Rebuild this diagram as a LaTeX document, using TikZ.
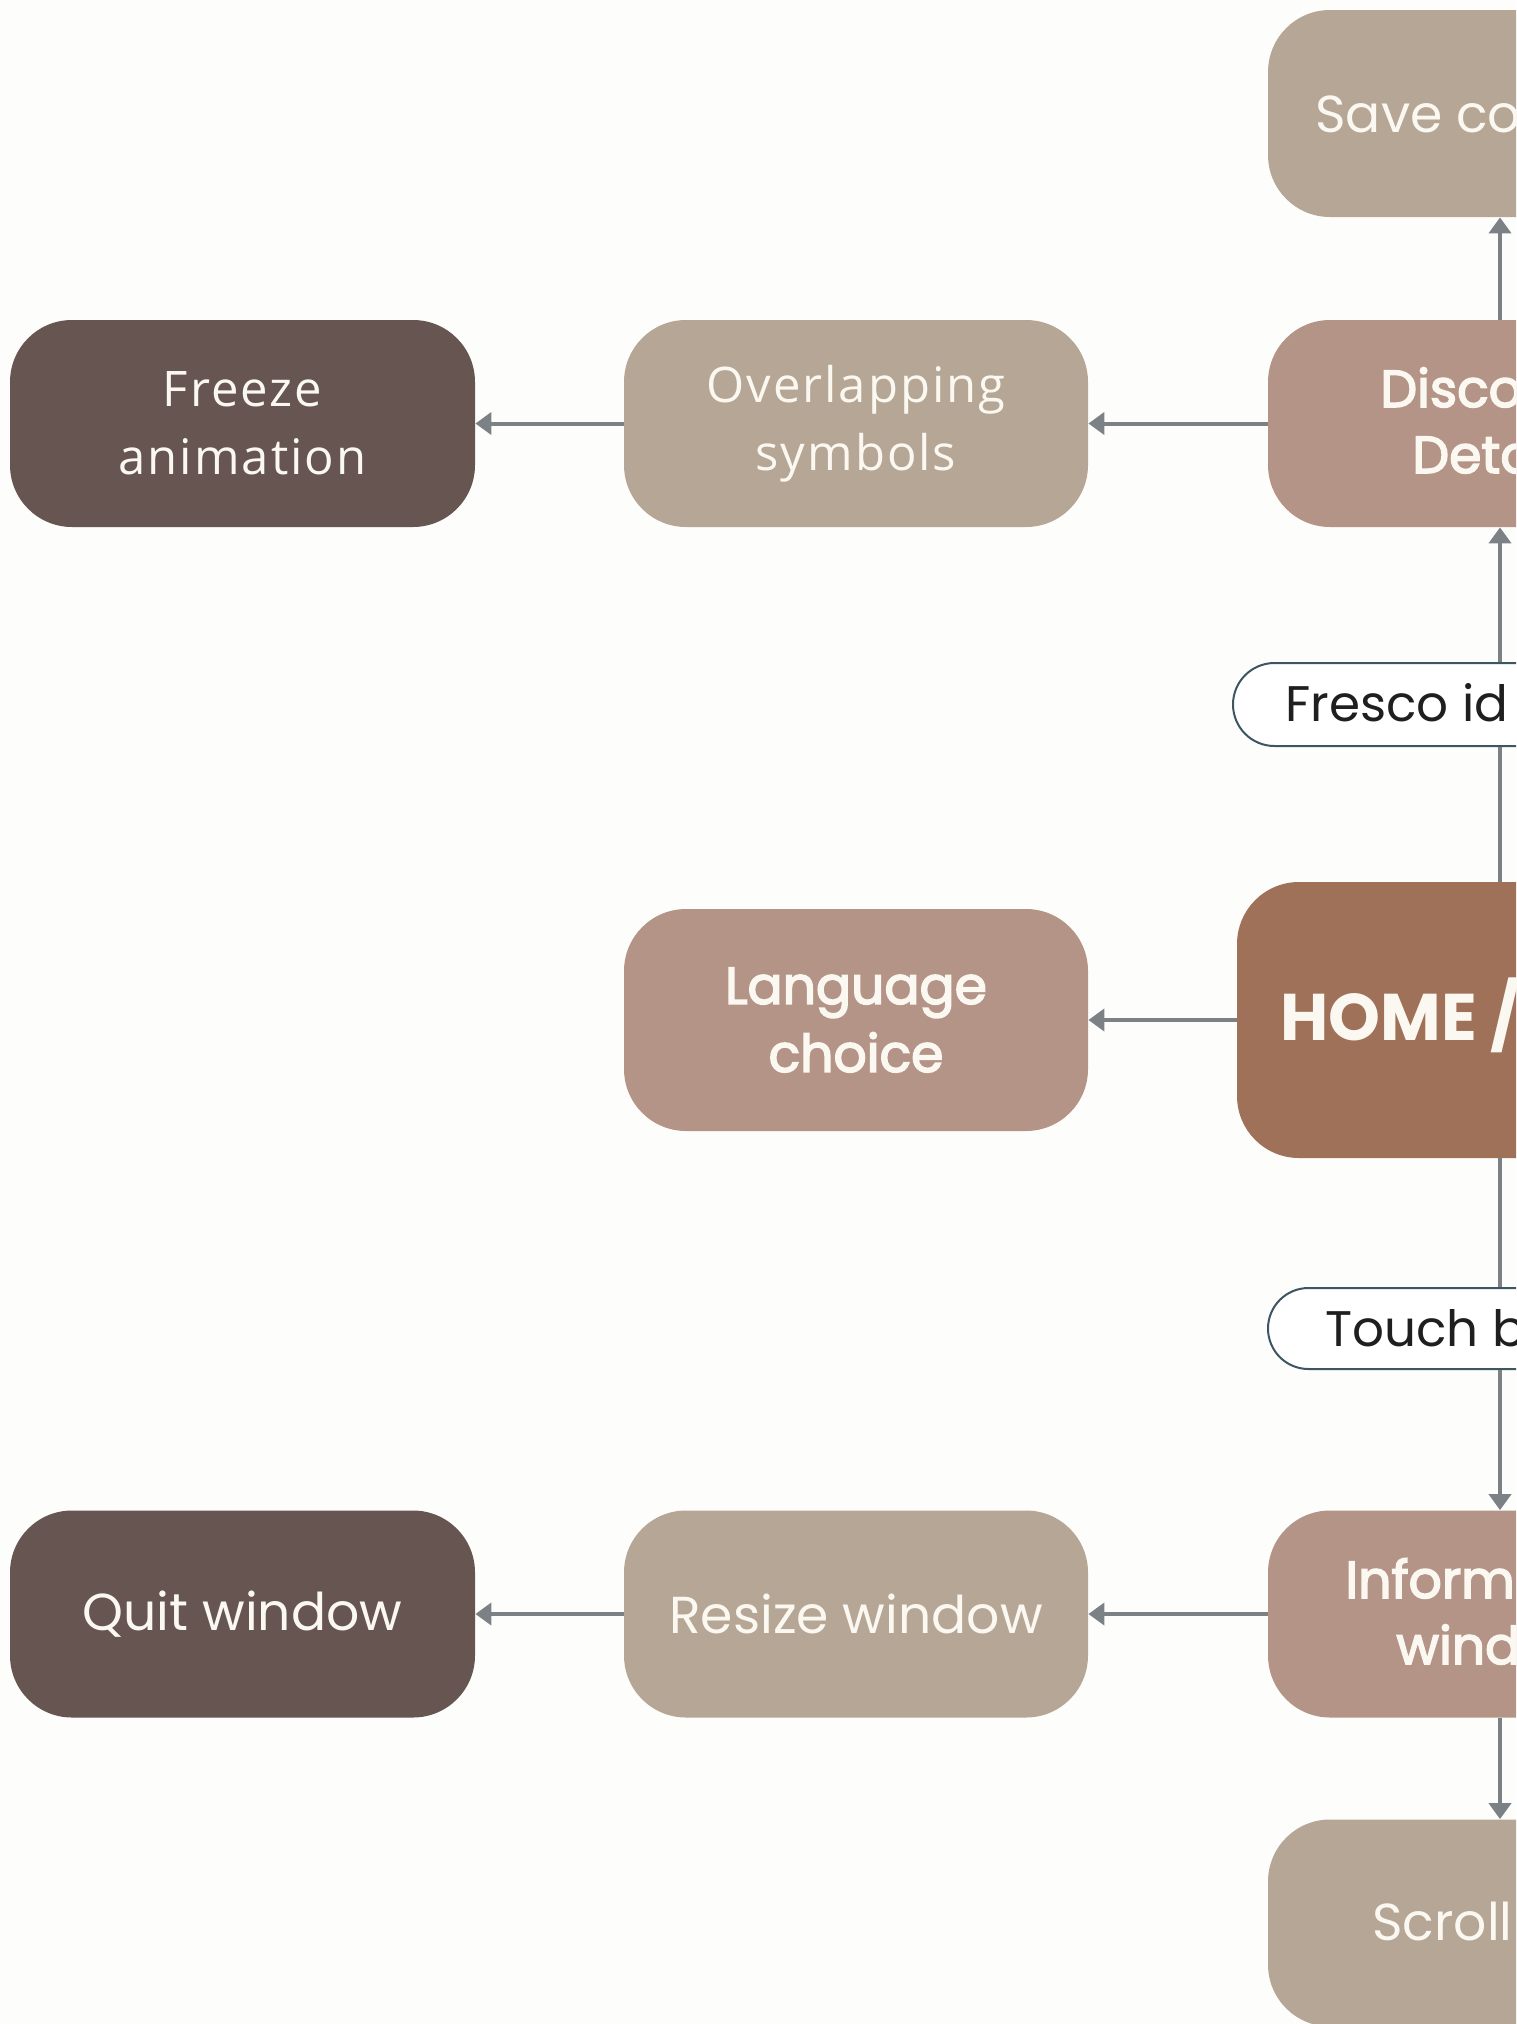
\documentclass[tikz,border=0pt]{standalone}
\usepackage{fontspec}
\setmainfont{Poppins}
\newfontfamily\semifont[FakeBold=3]{Poppins}
\newfontfamily\humfont[LetterSpace=4]{Open Sans}
\usetikzlibrary{arrows.meta,shapes.misc}

\definecolor{taupe}{HTML}{B5A695}
\definecolor{rose}{HTML}{B59488}
\definecolor{umber}{HTML}{665551}
\definecolor{clay}{HTML}{A07159}
\definecolor{linkgray}{HTML}{7B8185}
\definecolor{pillline}{HTML}{3E5661}
\definecolor{ink}{HTML}{FBF8F1}
\definecolor{paper}{HTML}{FDFDFC}

\tikzset{
  box/.style={rounded corners=31pt, minimum width=232pt, minimum height=103.5pt,
    inner sep=0pt, text=ink, align=center, font=\fontsize{26}{34}\selectfont},
  boldbox/.style={box, font=\semifont\fontsize{26}{34}\selectfont},
  humbox/.style={box, font=\humfont\fontsize{24.5}{34}\selectfont},
  link/.style={draw=linkgray, line width=2pt, -{Triangle[width=11pt,length=8pt]}},
  plain/.style={draw=linkgray, line width=2pt},
  pill/.style={rounded rectangle, draw=pillline, line width=1pt, fill=white,
    inner sep=0pt},
  frag/.style={anchor=base west, inner sep=0pt, text=ink, font=\fontsize{26}{34}\selectfont},
  boldfrag/.style={frag, font=\semifont\fontsize{26}{34}\selectfont},
  tag/.style={anchor=base west, inner sep=0pt, text=black!88, font=\fontsize{25}{30}\selectfont}
}

\begin{document}
\begin{tikzpicture}[x=0.5pt,y=-0.5pt]
  \useasboundingbox (0,0) rectangle (1516,2024);
  \fill[paper] (0,0) rectangle (1516,2024);
  \clip (0,0) rectangle (1516,2024);

  % main column
  \node[box, fill=taupe] (save) at (1500,113.5) {};
  \node[box, fill=rose] (disc) at (1500,423.5) {};
  \node[box, fill=clay, minimum width=263pt, minimum height=138pt] (home) at (1500,1020) {};
  \node[box, fill=rose] (inform) at (1500,1614) {};
  \node[box, fill=taupe] (scroll) at (1500,1923) {};

  % side branches
  \node[humbox, fill=taupe] (over) at (856,423.5) {Overlapping\\symbols};
  \node[humbox, fill=umber, minimum width=232.5pt] (freeze) at (242.5,423.5) {Freeze\\animation};
  \node[boldbox, fill=rose, minimum height=111pt] (lang) at (856,1020) {Language\\choice};
  \node[box, fill=taupe] (resize) at (856,1614) {Resize window};
  \node[box, fill=umber, minimum width=232.5pt] (quit) at (242.5,1614) {Quit window};

  % event labels on the main column
  \node[pill, minimum width=267pt, minimum height=41.5pt] (fresco) at (1500,704.5) {};
  \node[pill, minimum width=232pt, minimum height=40.5pt] (touch) at (1500,1328.5) {};

  % connectors
  \draw[link] (disc) -- (save);
  \draw[plain] (home) -- (fresco);
  \draw[link] (fresco) -- (disc);
  \draw[plain] (home) -- (touch);
  \draw[link] (touch) -- (inform);
  \draw[link] (inform) -- (scroll);
  \draw[link] (disc) -- (over);
  \draw[link] (over) -- (freeze);
  \draw[link] (home) -- (lang);
  \draw[link] (inform) -- (resize);
  \draw[link] (resize) -- (quit);

  % texts of the main column
  \node[frag] (saveT) at (1315,132) {Save co};
  \node[boldfrag] (discT1) at (1380,407) {Disco};
  \node[boldfrag] (discT2) at (1412,473) {Deta};
  \node[tag] (frescoT) at (1285,721) {Fresco id};
  \node[frag, font=\fontsize{33}{38}\selectfont\bfseries] (homeT) at (1280,1040) {HOME /};
  \node[tag] (touchT) at (1325,1346) {Touch b};
  \node[boldfrag] (informT1) at (1345,1598) {Inform};
  \node[boldfrag] (informT2) at (1396,1664) {wind};
  \node[frag] (scrollT) at (1372,1940) {Scroll};
\end{tikzpicture}
\end{document}
